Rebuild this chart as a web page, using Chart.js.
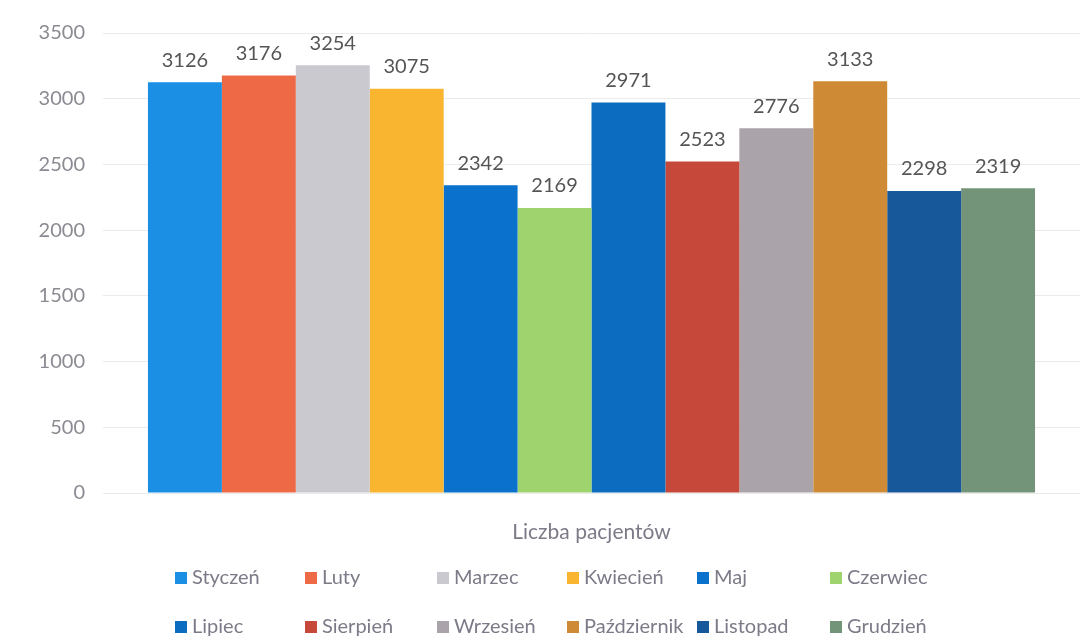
<!DOCTYPE html>
<html>
<head>
<meta charset="utf-8">
<script src="https://cdn.jsdelivr.net/npm/chart.js@4"></script>
<style>
html,body{margin:0;padding:0;background:#fff;}
#wrap{width:1080px;height:644px;position:relative;}
</style>
</head>
<body>
<div id="wrap"><canvas id="c" width="1080" height="644"></canvas></div>
<script>
const categories = ["Liczba pacjentów"];
const months = ["Styczeń","Luty","Marzec","Kwiecień","Maj","Czerwiec","Lipiec","Sierpień","Wrzesień","Październik","Listopad","Grudzień"];
const values = [3126,3176,3254,3075,2342,2169,2971,2523,2776,3133,2298,2319];
const colors = ["#1a8fe3","#ee6a47","#c9c9cf","#f9b430","#0a72cc","#9fd36e","#0b6cc0","#c6483a","#aaa3a9","#cf8a36","#16589a","#74947a"];
const yTicks = [0,500,1000,1500,2000,2500,3000,3500];

const FONT = "Lato, 'Open Sans', sans-serif";

const valueLabels = {
  id:'valueLabels',
  afterDatasetsDraw(chart){
    const ctx = chart.ctx;
    ctx.save();
    ctx.font = "20px " + FONT;
    ctx.fillStyle = "#555555";
    ctx.textAlign = "center";
    ctx.textBaseline = "bottom";
    chart.data.datasets.forEach((ds,i)=>{
      const meta = chart.getDatasetMeta(i);
      meta.data.forEach((bar,j)=>{
        ctx.fillText(String(ds.data[j]), bar.x, bar.y - 12);
      });
    });
    ctx.restore();
  }
};

const gridLegend = {
  id:'gridLegend',
  afterDraw(chart){
    const ctx = chart.ctx;
    ctx.save();
    ctx.font = "20px " + FONT;
    ctx.textBaseline = "middle";
    ctx.textAlign = "left";
    const cols = [175,305,437,567,697,830];
    const rows = [578,627];
    chart.data.datasets.forEach((ds,i)=>{
      const x = cols[i % 6], y = rows[Math.floor(i/6)];
      ctx.fillStyle = ds.backgroundColor;
      ctx.fillRect(x, y-6, 12, 12);
      ctx.fillStyle = "#7d7a88";
      ctx.fillText(ds.label, x+17, y);
    });
    ctx.restore();
  }
};

new Chart(document.getElementById('c'), {
  type:'bar',
  data:{
    labels: categories,
    datasets: months.map((m,i)=>({
      label:m,
      data:[values[i]],
      backgroundColor:colors[i],
      borderWidth:0
    }))
  },
  options:{
    responsive:false,
    animation:false,
    layout:{padding:{top:33,right:0,left:3,bottom:0}},
    plugins:{legend:{display:false},tooltip:{enabled:false}},
    datasets:{bar:{categoryPercentage:0.908,barPercentage:1}},
    scales:{
      x:{
        grid:{display:false,drawTicks:false},
        border:{display:false},
        ticks:{color:"#7d7a88",font:{family:FONT,size:21},padding:27},
        afterFit(s){ s.height = 644-493; }
      },
      y:{
        min:0,max:3500,
        afterBuildTicks(s){ s.ticks = yTicks.map(v=>({value:v})); },
        grid:{color:"#ebebeb",drawTicks:false,lineWidth:1},
        border:{display:false},
        ticks:{color:"#8c8a92",font:{family:FONT,size:20},padding:18,callback:(v)=>String(v)},
        afterFit(s){ s.width = 100; }
      }
    }
  },
  plugins:[valueLabels,gridLegend]
});
</script>
</body>
</html>
